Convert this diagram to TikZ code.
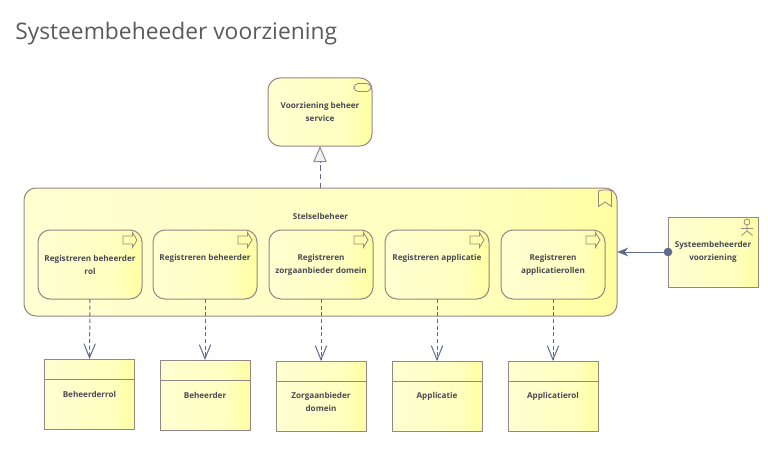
\documentclass[tikz,border=0pt]{standalone}
\usepackage{fontspec}
\setmainfont{Open Sans}
\usetikzlibrary{arrows.meta,calc}
\definecolor{edgec}{HTML}{9A8583}
\definecolor{linec}{HTML}{5F6A8C}
\definecolor{textc}{HTML}{4A4A55}
\definecolor{titlec}{HTML}{5A5A5A}
\definecolor{yl}{HTML}{FFFFD2}
\definecolor{ym}{HTML}{FFFFC0}
\definecolor{yr}{HTML}{FFFFA0}
\definecolor{tric}{HTML}{F6EFEF}
\definecolor{trid}{HTML}{8F8C96}
\pgfdeclarehorizontalshading{yelgrad}{100bp}{color(0bp)=(yl); color(25bp)=(yl); color(62bp)=(ym); color(75bp)=(yr); color(100bp)=(yr)}
\tikzset{
 x=0.75pt,y=-0.75pt,
 elem/.style={draw=edgec,line width=0.75pt,shading=yelgrad,inner sep=0pt,outer sep=0pt},
 rbox/.style={elem,rounded corners=9pt},
 sbox/.style={elem,minimum width=67.5pt,minimum height=52.5pt},
 lbl/.style={text=textc,font=\fontsize{6.1}{10}\selectfont\bfseries,align=center,inner sep=0pt},
 icon/.style={draw=edgec,line width=0.6pt,fill=none},
 realise/.style={draw=linec,line width=0.75pt,dash pattern=on 4pt off 2.5pt,-{Triangle[open,fill=tric,color=trid,length=12pt,width=10pt]}},
 access/.style={draw=linec,line width=0.75pt,dash pattern=on 3pt off 2pt,-{Straight Barb[length=10.5pt,width=8.5pt,line width=0.75pt]}},
 assign/.style={draw=linec,line width=0.75pt,-{Stealth[length=8.5pt,width=6.5pt]}},
 assigndot/.style={fill=linec,draw=none,circle,minimum size=6.5pt,inner sep=0pt},
}
\begin{document}
\begin{tikzpicture}
\useasboundingbox (0,0) rectangle (768,460);
\node[anchor=west,text=titlec,font=\fontsize{17.1}{20}\selectfont,inner sep=0pt] (title) at (15,34) {Systeembeheeder voorziening};

% service
\node[rbox,minimum width=78pt,minimum height=51pt] (srv) at (320,112) {};
\node[lbl] (srvl) at (320,112) {Voorziening beheer\\service};
\draw[icon,rounded corners=3.2pt] (354,83.5) rectangle (371,91.5);

% group
\node[rbox,minimum width=444.75pt,minimum height=96pt] (grp) at (320.5,252) {};
\node[lbl] (grpl) at (320.5,216.5) {Stelselbeheer};
\draw[icon] (598.5,191) .. controls (602,189.5) and (608,189.5) .. (611.5,191) -- (611.5,206.5) -- (605,202) -- (598.5,206.5) -- cycle;

% processes
\foreach \n/\cx/\t/\ty in {
 pa/90/{Registreren beheerder\\rol}/265,
 pb/205/{Registreren beheerder}/258,
 pc/321/{Registreren\\zorgaanbieder domein}/265,
 pd/437/{Registreren applicatie}/258,
 pe/553/{Registreren\\applicatierollen}/265}{
 \node[rbox,minimum width=78pt,minimum height=51.75pt] (\n) at (\cx,264.5) {};
 \node[lbl] (\n l) at (\cx,\ty) {\t};
 \draw[icon] ($(\n.north east)+(-19,6)$) -- ++(9.5,0) -- ++(0,-3.5) -- ++(4.5,7.5) -- ++(-4.5,7.5) -- ++(0,-3.5) -- ++(-9.5,0) -- cycle;
}

% objects
\foreach \n/\cx/\cy/\t/\ty in {
 oa/89.5/394/Beheerderrol/394,
 ob/205/395/Beheerder/395,
 oc/321/396/{Zorgaanbieder\\domein}/402,
 od/437/396/Applicatie/396,
 oe/553/396/Applicatierol/396}{
 \node[sbox] (\n) at (\cx,\cy) {};
 \draw[draw=edgec,line width=0.75pt] ($(\n.north west)+(0,20)$) -- ($(\n.north east)+(0,20)$);
 \node[lbl] (\n l) at (\cx,\ty) {\t};
}

% actor
\node[sbox] (act) at (713,252) {};
\node[lbl] (actl) at (713,252) {Systeembeheerder\\voorziening};
\draw[icon] (747,222) circle[radius=3];
\draw[icon] (747,225) -- (747,231) (741,228.5) -- (753,228.5) (741.5,235.5) -- (747,231) -- (752.5,235.5);

% connectors
\draw[realise] (grp.north -| srv.south) -- (srv.south);
\foreach \a/\b in {pa/oa,pb/ob,pc/oc,pd/od,pe/oe}
  \draw[access] (\a.south) -- (\b.north);
\node[assigndot] (dot) at (act.west) {};
\draw[assign] (dot.center) -- (grp.east);
\end{tikzpicture}
\end{document}
